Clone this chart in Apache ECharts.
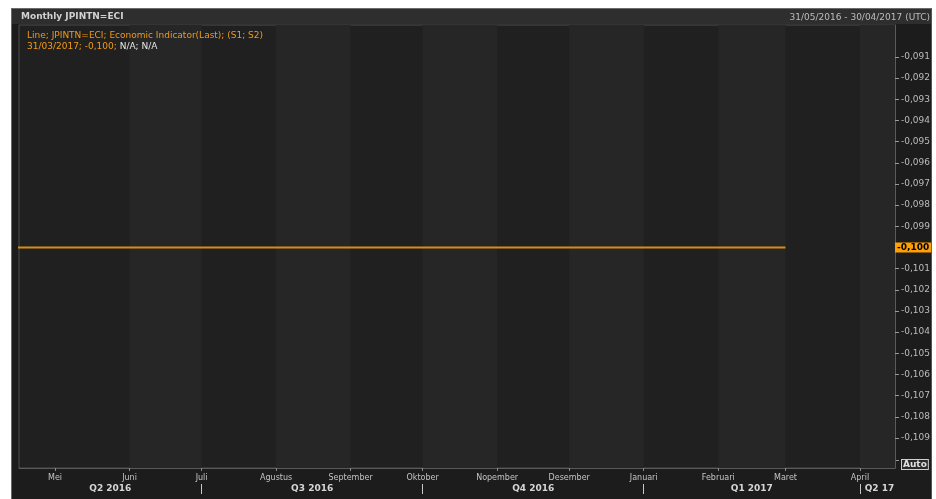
<!DOCTYPE html>
<html>
<head>
<meta charset="utf-8">
<script src="https://cdn.jsdelivr.net/npm/echarts@6/dist/echarts.min.js"></script>
<style>
  html, body { margin: 0; padding: 0; background: #ffffff; }
  #panel { position: absolute; left: 11px; top: 8px; width: 921px; height: 491px; box-sizing: border-box;
           background: #1c1c1c; border-left: 1px solid #6a6a6a; border-top: 1px solid #6a6a6a; border-right: 1px solid #555; }
  #header { position: absolute; left: 12px; top: 9px; width: 919px; height: 15px; background: #2e2e2e; }
  #chart { position: absolute; left: 0; top: 0; width: 936px; height: 499px; }
</style>
</head>
<body>
<div id="panel"></div>
<div id="header"></div>
<div id="chart"></div>
<script>
// ---- data ----
var pointDates = ['2016-03-01','2016-04-01','2016-05-01','2016-06-01','2016-07-01','2016-08-01','2016-09-01',
                  '2016-10-01','2016-11-01','2016-12-01','2017-01-01','2017-02-01','2017-03-01'];
var pointValues = [-0.100,-0.100,-0.100,-0.100,-0.100,-0.100,-0.100,-0.100,-0.100,-0.100,-0.100,-0.100,-0.100];
var monthStarts = ['2016-05-01','2016-06-01','2016-07-01','2016-08-01','2016-09-01','2016-10-01',
                   '2016-11-01','2016-12-01','2017-01-01','2017-02-01','2017-03-01','2017-04-01'];
var monthLabels = ['Mei','Juni','Juli','Agustus','September','Oktober','Nopember','Desember','Januari','Februari','Maret','April'];
var quarterStarts = ['2016-07-01','2016-10-01','2017-01-01','2017-04-01'];
var quarterLabels = ['Q2 2016','Q3 2016','Q4 2016','Q1 2017','Q2 17'];
var yTicks = [-0.091,-0.092,-0.093,-0.094,-0.095,-0.096,-0.097,-0.098,-0.099,-0.100,
              -0.101,-0.102,-0.103,-0.104,-0.105,-0.106,-0.107,-0.108,-0.109];
var lastValue = -0.100;
var viewStart = '2016-04-16';
var viewEnd = '2017-04-15T14:00:00';

function ts(s) {
  var p = s.split('T');
  var d = p[0].split('-').map(Number);
  var t = p[1] ? p[1].split(':').map(Number) : [0,0,0];
  return Date.UTC(d[0], d[1]-1, d[2], t[0], t[1], t[2] || 0);
}
var xMin = ts(viewStart), xMax = ts(viewEnd);
var monthTs = monthStarts.map(ts);
var qTs = quarterStarts.map(ts);
var qBounds = [xMin].concat(qTs).concat([xMax]);
var qMid = [];
for (var i = 0; i < quarterLabels.length; i++) qMid.push(Math.round((qBounds[i] + qBounds[i+1]) / 2));

var lineData = pointDates.map(function (d, i) { return [ts(d), pointValues[i]]; });

var bands = [];
for (var k = 1; k < monthTs.length; k += 2) {
  bands.push([{ xAxis: monthTs[k] }, { xAxis: k + 1 < monthTs.length ? monthTs[k+1] : xMax }]);
}

function fmtY(v) { return v.toFixed(3).replace('.', ','); }
function nearestIdx(arr, v) {
  var best = -1, bd = Infinity;
  for (var i = 0; i < arr.length; i++) { var d = Math.abs(arr[i] - v); if (d < bd) { bd = d; best = i; } }
  return bd < 1000 ? best : -1;
}

var chart = echarts.init(document.getElementById('chart'), null, { renderer: 'canvas' });
chart.setOption({
  backgroundColor: 'transparent',
  animation: false,
  title: [
    { text: 'Monthly JPINTN=ECI', left: 21, top: 12, padding: 0,
      textStyle: { fontFamily: 'DejaVu Sans', fontSize: 9, fontWeight: 'bold', color: '#d2d2d2' } },
    { text: '31/05/2016 - 30/04/2017 (UTC)', right: 6, top: 13, padding: 0,
      textStyle: { fontFamily: 'DejaVu Sans', fontSize: 9, fontWeight: 'normal', color: '#bdbdbd' } },
    { text: '{o|Line; JPINTN=ECI; Economic Indicator(Last); (S1; S2)}\n{o|31/03/2017; ' + fmtY(lastValue) + '; }{w|N/A; N/A}',
      left: 27, top: 30, padding: 0,
      textStyle: { fontFamily: 'DejaVu Sans', fontSize: 9, fontWeight: 'normal', lineHeight: 11,
        rich: { o: { color: '#f29a1a', fontSize: 9, fontFamily: 'DejaVu Sans', lineHeight: 11 },
                w: { color: '#e6e6e6', fontSize: 9, fontFamily: 'DejaVu Sans', lineHeight: 11 } } } }
  ],
  grid: { left: 19, right: 41, top: 25, bottom: 31, show: true, backgroundColor: '#202020',
          borderColor: '#4c4c4c', borderWidth: 1 },
  xAxis: [
    { type: 'value', min: xMin, max: xMax, position: 'bottom',
      axisLine: { show: true, onZero: false, lineStyle: { color: '#5a5a5a', width: 1 } },
      axisTick: { show: true, length: 3, lineStyle: { color: '#8a8a8a' }, customValues: monthTs },
      axisLabel: { show: true, customValues: monthTs, margin: 6, color: '#c4c4c4',
        fontFamily: 'DejaVu Sans', fontSize: 8, hideOverlap: false, showMinLabel: true, showMaxLabel: true,
        formatter: function (v) { var i = nearestIdx(monthTs, v); return i >= 0 ? monthLabels[i] : ''; } },
      splitLine: { show: false } },
    { type: 'value', min: xMin, max: xMax, position: 'bottom', offset: 16,
      axisLine: { show: false, onZero: false },
      axisTick: { show: true, length: 10, lineStyle: { color: '#c8c8c8', width: 1 }, customValues: qTs },
      axisLabel: { show: true, customValues: qMid, margin: 0, color: '#d6d6d6',
        fontFamily: 'DejaVu Sans', fontSize: 9, fontWeight: 'bold', hideOverlap: false,
        formatter: function (v) {
          var i = nearestIdx(qMid, v);
          if (i < 0) return '';
          return i === quarterLabels.length - 1 ? '{e|' + quarterLabels[i] + '}' : quarterLabels[i];
        },
        rich: { e: { color: '#d6d6d6', fontFamily: 'DejaVu Sans', fontSize: 9, fontWeight: 'bold', padding: [0, 0, 0, 4] } } },
      splitLine: { show: false } }
  ],
  yAxis: {
    type: 'value', position: 'right', min: -0.11042, max: -0.08949,
    axisLine: { show: true, onZero: false, lineStyle: { color: '#5a5a5a' } },
    axisTick: { show: true, length: 4, inside: false, customValues: yTicks, lineStyle: { color: '#9a9a9a' } },
    axisLabel: { show: true, customValues: yTicks, margin: 0, color: '#bcbcbc',
      fontFamily: 'DejaVu Sans', fontSize: 9,
      formatter: function (v) {
        if (Math.abs(v - lastValue) < 1e-9) return '{hl|' + fmtY(v) + '}';
        return '{n|' + fmtY(v) + '}';
      },
      rich: { n: { color: '#bcbcbc', fontSize: 9, fontFamily: 'DejaVu Sans', padding: [0, 0, 0, 6] },
              hl: { backgroundColor: '#ffa000', color: '#000000', fontWeight: 'bold', fontSize: 9,
                    fontFamily: 'DejaVu Sans', padding: [1, 2, 0, 2] } } },
    splitLine: { show: false }
  },
  series: [
    { type: 'line', xAxisIndex: 0, data: lineData, showSymbol: false, symbol: 'none', clip: true,
      lineStyle: { color: '#d98c12', width: 2 },
      markArea: { silent: true, itemStyle: { color: '#262626' }, data: bands },
      z: 5 }
  ],
  graphic: [
    { type: 'line', shape: { x1: 895, y1: 460.5, x2: 899, y2: 460.5 }, style: { stroke: '#9a9a9a', lineWidth: 1 } },
    { type: 'text', left: 901, top: 459,
      style: { text: 'Auto', fill: '#e0e0e0', font: 'bold 9px "DejaVu Sans"',
               backgroundColor: '#2a2a2a', borderColor: '#cfcfcf', borderWidth: 1, padding: [0, 1, 0, 1] } }
  ]
});
</script>
</body>
</html>
